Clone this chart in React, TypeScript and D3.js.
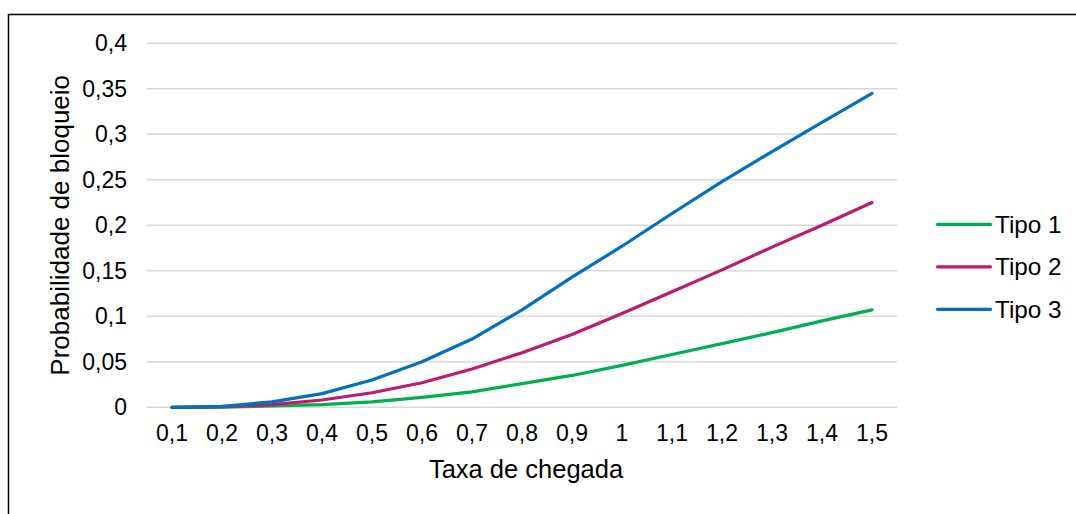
import React from "react";
import * as d3 from "d3";

const categories = ["0,1","0,2","0,3","0,4","0,5","0,6","0,7","0,8","0,9","1","1,1","1,2","1,3","1,4","1,5"];
const tipo1 = [0, 0.0001, 0.0015, 0.003, 0.006, 0.011, 0.017, 0.026, 0.035, 0.046, 0.058, 0.070, 0.082, 0.095, 0.107];
const tipo2 = [0, 0.0005, 0.003, 0.008, 0.016, 0.027, 0.042, 0.060, 0.080, 0.103, 0.127, 0.151, 0.176, 0.200, 0.225];
const tipo3 = [0, 0.001, 0.006, 0.015, 0.030, 0.050, 0.075, 0.107, 0.143, 0.177, 0.213, 0.248, 0.281, 0.313, 0.345];
const yTicks = [0, 0.05, 0.1, 0.15, 0.2, 0.25, 0.3, 0.35, 0.4];
const seriesNames = ["Tipo 1", "Tipo 2", "Tipo 3"];
const seriesColors = ["#00B050", "#BE1B70", "#0070C0"];
const seriesData = [tipo1, tipo2, tipo3];
const xTitle = "Taxa de chegada";
const yTitle = "Probabilidade de bloqueio";

const W = 1076, H = 514;
const plot = { left: 147, right: 897, top: 43.3, bottom: 407.3 };
const FONT = "'Liberation Sans', Arial, sans-serif";

export default function App() {
  const x = d3.scaleBand<string>().domain(categories).range([plot.left, plot.right]);
  const y = d3.scaleLinear().domain([0, 0.4]).range([plot.bottom, plot.top]);
  const fmt = (v: number) => d3.format("~g")(v).replace(".", ",");
  const line = d3.line<number>()
    .x((_, i) => (x(categories[i]) as number) + x.bandwidth() / 2)
    .y((d) => y(d));

  return (
    <svg width={W} height={H} style={{ position: "fixed", left: 0, top: 0, background: "#fff" }} fontFamily={FONT}>
      <rect x={0} y={0} width={W} height={H} fill="#fff" />
      <rect x={8.5} y={14.5} width={W + 20} height={H + 20} fill="none" stroke="#000" strokeWidth={1.5} />
      {yTicks.map((t) => (
        <g key={t}>
          <line x1={plot.left} x2={plot.right} y1={y(t)} y2={y(t)} stroke="#D9D9D9" strokeWidth={1.5} />
          <text x={127} y={y(t) + 8} textAnchor="end" fontSize={23} fill="#000">{fmt(t)}</text>
        </g>
      ))}
      {categories.map((c) => (
        <text key={c} x={(x(c) as number) + x.bandwidth() / 2} y={441} textAnchor="middle" fontSize={23} fill="#000">{c}</text>
      ))}
      {seriesData.map((s, i) => (
        <path key={i} d={line(s) || ""} fill="none" stroke={seriesColors[i]} strokeWidth={3.2} strokeLinecap="round" strokeLinejoin="round" />
      ))}
      <text x={526} y={478} textAnchor="middle" fontSize={25.5} fill="#000">{xTitle}</text>
      <text transform={`translate(68.5, ${(plot.top + plot.bottom) / 2}) rotate(-90)`} textAnchor="middle" fontSize={26} fill="#000">{yTitle}</text>
      {seriesNames.map((n, i) => {
        const ly = 224.3 + i * 42.5;
        return (
          <g key={n}>
            <line x1={937.5} x2={990.5} y1={ly} y2={ly} stroke={seriesColors[i]} strokeWidth={3.2} strokeLinecap="round" />
            <text x={995} y={ly + 8.5} fontSize={24.3} fill="#000">{n}</text>
          </g>
        );
      })}
    </svg>
  );
}
